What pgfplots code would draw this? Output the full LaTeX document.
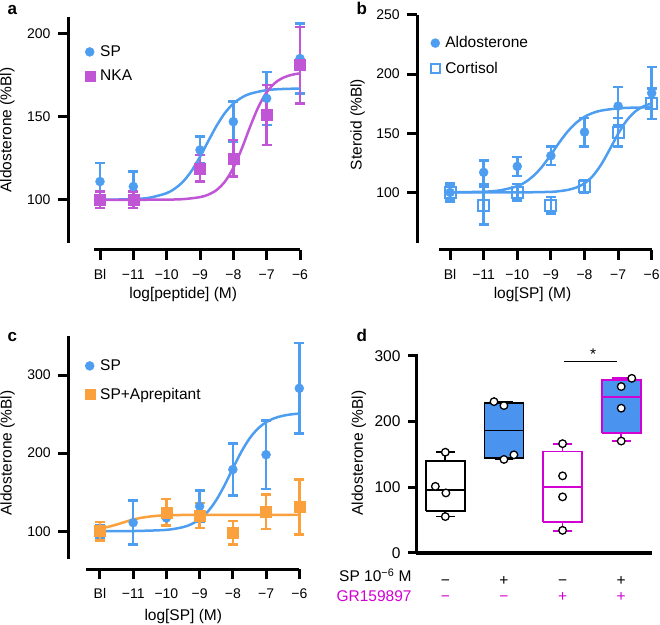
\documentclass[border=0pt]{standalone}
\usepackage{fontspec}
\setmainfont{Liberation Sans}
\usepackage{pgfplots}
\usepackage{pgfplotstable}
\pgfplotsset{compat=1.18}

\definecolor{spblue}{RGB}{77,157,240}
\definecolor{nka}{RGB}{192,86,214}
\definecolor{apr}{RGB}{250,160,60}
\definecolor{boxblue}{RGB}{74,148,240}
\definecolor{gr}{RGB}{210,0,210}

% panel a
\pgfplotstableread{
x y e
-12 111 11
-11 108 9
-9 130 8
-8 147 12
-7 161 16
-6 185 21
}\aSP
\pgfplotstableread{
x y e
-12 100 5
-11 100 5
-9 119 8
-8 125 11
-7 151 18
-6 181 23
}\aNKA
% panel b
\pgfplotstableread{
x y e
-12 100 8
-11 117 10
-10 122 8
-9 131 8
-8 151 12
-7 173 16
-6 184 22
}\bAld
\pgfplotstableread{
x y e
-12 100 6
-11 89 16
-10 100 7
-9 89 7
-8 105 5
-7 151 12
-6 175 13
}\bCort
% panel c
\pgfplotstableread{
x y e
-12 100 8
-11 111 28
-10 117 10
-9 132 20
-8 179 33
-7 198 44
-6 283 58
}\cSP
\pgfplotstableread{
x y e
-12 100 12
-10 124 17
-9 120 16
-8 98 15
-7 125 22
-6 131 35
}\cApr

\pgfplotsset{
  prism/.style={
    scale only axis, clip=false,
    axis x line*=bottom, axis y line*=left,
    axis line style={line width=3pt, black},
    tick align=outside, major tick length=10pt,
    tick style={line width=3pt, black},
    tick label style={font=\fontsize{14}{16}\selectfont},
    yticklabel style={xshift=-4pt},
    /pgf/number format/assume math mode=true,
    every axis y label/.style={rotate=90, anchor=center},
    every axis x label/.style={anchor=center},
    label style={font=\fontsize{15.5}{18}\selectfont},
    legend cell align=left,
    legend style={draw=none, fill=none, inner sep=0pt,
      nodes={inner sep=1pt}, font=\fontsize{15.5}{18}\selectfont,
      /tikz/every odd column/.append style={column sep=4.5pt}},
  },
  dose/.style={xtick={-12,-11,...,-6},
    xticklabels={Bl,−11,−10,−9,−8,−7,−6}, xmax=-6,
    xticklabel style={yshift=-6pt}},
  errs/.style={error bars/.cd, y dir=both, y explicit,
    error bar style={line width=2.5pt, #1},
    error mark options={rotate=90, mark size=5pt, line width=2.5pt, #1},
    /pgfplots/.cd},
  fit/.style={#1, line width=2.5pt, smooth, no marks},
}

\begin{document}
\begin{tikzpicture}
\useasboundingbox (0,0) rectangle (660pt,624pt);

\node[anchor=base west, font=\bfseries\fontsize{17}{17}\selectfont] at (4pt,609pt) {a};
\node[anchor=base west, font=\bfseries\fontsize{17}{17}\selectfont] at (353pt,609pt) {b};
\node[anchor=base west, font=\bfseries\fontsize{17}{17}\selectfont] at (4pt,282pt) {c};
\node[anchor=base west, font=\bfseries\fontsize{17}{17}\selectfont] at (353pt,282pt) {d};

% ---------- a ----------
\begin{axis}[prism, dose, at={(94pt,381pt)}, anchor=south west,
  width=206pt, height=226pt, xmin=-12.18, ymin=74, ymax=210,
  ytick={100,150,200}, axis x line shift=7pt, axis y line shift=26pt,
  xlabel={log[peptide] (M)}, ylabel={Aldosterone (\%Bl)},
  xlabel style={at={(axis description cs:0.433,-0.226)}},
  ylabel style={at={(axis description cs:-0.42,0.5)}},
  legend style={at={(axis description cs:-0.046,0.878)}, anchor=north west, row sep=10pt}]
\addlegendimage{only marks, mark=*, mark size=4.5pt, spblue}
\addlegendentry{SP}
\addlegendimage{only marks, mark=square*, mark size=5pt, nka}
\addlegendentry{NKA}
\addplot[only marks, mark=*, mark size=4.5pt, spblue, forget plot, errs=spblue]
  table[x=x, y=y, y error=e] {\aSP};
\addplot[only marks, mark=square*, mark size=5.5pt, nka, forget plot, errs=nka]
  table[x=x, y=y, y error=e] {\aNKA};
\addplot[fit=spblue, forget plot] coordinates {
 (-12,100.0) (-11,100.4) (-10.5,101.3) (-10,104.0) (-9.75,106.8) (-9.5,111.1)
 (-9.25,117.5) (-9,125.9) (-8.75,135.4) (-8.5,144.6) (-8.25,152.3) (-8,157.9)
 (-7.75,161.5) (-7.5,163.8) (-7,166.0) (-6.5,166.7) (-6,166.9)};
\addplot[fit=nka, forget plot] coordinates {
 (-12,100.0) (-11,100.0) (-10,100.1) (-9.5,100.4) (-9,101.6) (-8.75,103.1)
 (-8.5,105.9) (-8.25,111.0) (-8,119.2) (-7.75,130.6) (-7.5,143.8) (-7.25,155.8)
 (-7,164.7) (-6.75,170.3) (-6.5,173.5) (-6.25,175.2) (-6,176.1)};
\end{axis}

% ---------- b ----------
\begin{axis}[prism, dose, at={(439.3pt,380.7pt)}, anchor=south west,
  width=212.4pt, height=228.3pt, xmin=-12.32, ymin=57, ymax=250,
  ytick={100,150,200,250}, axis x line shift=6.7pt, axis y line shift=22pt,
  xlabel={log[SP] (M)}, ylabel={Steroid (\%Bl)},
  xlabel style={at={(axis description cs:0.439,-0.226)}},
  ylabel style={at={(axis description cs:-0.385,0.52)}},
  legend style={at={(axis description cs:-0.041,0.91)}, anchor=north west, row sep=10.7pt}]
\addlegendimage{only marks, mark=*, mark size=4.5pt, spblue}
\addlegendentry{Aldosterone}
\addlegendimage{only marks, mark=square, mark size=4.5pt, line width=2pt, spblue, mark options={fill=white}}
\addlegendentry{Cortisol}
\addplot[only marks, mark=square, mark size=5.5pt, spblue,
  mark options={fill=white, line width=2pt}, forget plot, errs=spblue]
  table[x=x, y=y, y error=e] {\bCort};
\addplot[only marks, mark=*, mark size=4.5pt, spblue, forget plot, errs=spblue]
  table[x=x, y=y, y error=e] {\bAld};
\addplot[fit=spblue, forget plot] coordinates {
 (-12,100.1) (-11,100.6) (-10.5,101.8) (-10,105.3) (-9.75,108.9) (-9.5,114.5)
 (-9.25,122.2) (-9,131.9) (-8.75,142.2) (-8.5,151.5) (-8.25,158.8) (-8,163.9)
 (-7.75,167.2) (-7.5,169.2) (-7,171.1) (-6.5,171.7) (-6,171.9)};
\addplot[fit=spblue, forget plot] coordinates {
 (-12,100.0) (-10,100.0) (-9,100.5) (-8.75,101.1) (-8.5,102.1) (-8.25,104.1)
 (-8,107.7) (-7.75,114.0) (-7.5,123.7) (-7.25,136.3) (-7,149.5) (-6.75,160.6)
 (-6.5,168.2) (-6.25,172.7) (-6,175.3)};
\end{axis}

% ---------- c ----------
\begin{axis}[prism, dose, at={(86pt,64.7pt)}, anchor=south west,
  width=213.3pt, height=223.3pt, xmin=-12.42, ymin=64, ymax=350,
  ytick={100,200,300}, axis x line shift=10pt, axis y line shift=17.7pt,
  xlabel={log[SP] (M)}, ylabel={Aldosterone (\%Bl)},
  xlabel style={at={(axis description cs:0.456,-0.258)}},
  ylabel style={at={(axis description cs:-0.368,0.476)}},
  legend style={at={(axis description cs:-0.007,0.899)}, anchor=north west, row sep=14pt}]
\addlegendimage{only marks, mark=*, mark size=4.5pt, spblue}
\addlegendentry{SP}
\addlegendimage{only marks, mark=square*, mark size=5pt, apr}
\addlegendentry{SP+Aprepitant}
\addplot[only marks, mark=*, mark size=4.5pt, spblue, forget plot, errs=spblue]
  table[x=x, y=y, y error=e] {\cSP};
\addplot[fit=spblue, forget plot] coordinates {
 (-12,100.0) (-11,100.2) (-10,101.7) (-9.5,105.2) (-9.25,109.0) (-9,115.3)
 (-8.75,125.3) (-8.5,139.8) (-8.25,158.8) (-8,180.4) (-7.75,201.3) (-7.5,218.6)
 (-7.25,231.2) (-7,239.6) (-6.75,244.7) (-6.5,247.8) (-6.25,249.6) (-6,250.7)};
\addplot[only marks, mark=square*, mark size=5.5pt, apr, forget plot, errs=apr]
  table[x=x, y=y, y error=e] {\cApr};
\addplot[fit=apr, forget plot] coordinates {
 (-12,103.4) (-11.75,105.6) (-11.5,108.5) (-11.25,111.8) (-11,114.9) (-10.75,117.2)
 (-10.5,118.8) (-10.25,119.8) (-10,120.3) (-9.5,120.8) (-9,120.9) (-8,121.0)
 (-7,121.0) (-6,121.0)};
\end{axis}

% ---------- d ----------
\begin{axis}[prism, at={(416pt,71.3pt)}, anchor=south west,
  width=235.7pt, height=199pt, xmin=0.5, xmax=4.52, ymin=0, ymax=303,
  ytick={0,100,200,300}, major tick length=8pt,
  axis x line shift=0.5pt,
  tick label style={font=\fontsize{15.5}{18}\selectfont},
  xtick={1,2,3,4}, xticklabels={−,+,−,+}, xtick style={draw=none},
  xticklabel style={anchor=base, yshift=-24pt},
  unbounded coords=jump,
  ylabel={Aldosterone (\%Bl)},
  ylabel style={at={(axis description cs:-0.242,0.5)}}]
% boxes: lower quartile to upper quartile
\addplot[draw=black, fill=white, line width=1.8pt] coordinates {
 (0.6675,64) (1.3325,64) (1.3325,140) (0.6675,140) (0.6675,64)};
\addplot[draw=black, fill=boxblue, line width=1.8pt] coordinates {
 (1.6675,143.7) (2.3325,143.7) (2.3325,228) (1.6675,228) (1.6675,143.7)};
\addplot[draw=gr, fill=white, line width=1.8pt] coordinates {
 (2.6675,46.5) (3.3325,46.5) (3.3325,154) (2.6675,154) (2.6675,46.5)};
\addplot[draw=gr, fill=boxblue, line width=1.8pt] coordinates {
 (3.6675,182) (4.3325,182) (4.3325,263) (3.6675,263) (3.6675,182)};
% medians and whiskers
\addplot[black, line width=1.8pt] coordinates {
 (0.6675,96) (1.3325,96) (nan,nan)
 (1,140) (1,153) (nan,nan) (0.84,153) (1.16,153) (nan,nan)
 (1,64) (1,55) (nan,nan) (0.84,55) (1.16,55) (nan,nan)
 (1.6675,186) (2.3325,186) (nan,nan)
 (2,228) (2,230) (nan,nan) (1.84,230) (2.16,230) (nan,nan)
 (1.84,142) (2.16,142)};
\addplot[gr, line width=1.8pt] coordinates {
 (2.6675,100.5) (3.3325,100.5) (nan,nan)
 (3,154) (3,166) (nan,nan) (2.84,166) (3.16,166) (nan,nan)
 (3,46.5) (3,33.5) (nan,nan) (2.84,33.5) (3.16,33.5) (nan,nan)
 (3.6675,236.5) (4.3325,236.5) (nan,nan)
 (4,263) (4,265.5) (nan,nan) (3.84,265.5) (4.16,265.5) (nan,nan)
 (4,182) (4,170) (nan,nan) (3.84,170) (4.16,170)};
% individual values
\addplot[only marks, mark=*, mark size=3.8pt,
  mark options={fill=white, draw=black, line width=1.3pt}] coordinates {
 (1.0,153) (0.83,101) (1.01,91) (1.0,55)
 (1.83,230) (2.0,224) (2.0,142) (2.17,149)
 (3.0,166) (3.0,117) (3.0,85) (3.0,34)
 (4.0,170) (4.0,220) (4.0,253) (4.18,265.5)};
\addplot[black, line width=1.3pt] coordinates {(3.03,291) (3.93,291)};
% x axis line
\addplot[draw=black, line width=3pt, forget plot] coordinates {(0.5,0) (2.5,0) (4.52,0)};
\node[anchor=base, font=\fontsize{15.5}{18}\selectfont] at (axis cs:3.52,294.6) {*};
\node[anchor=base east, font=\fontsize{15.5}{18}\selectfont] at (axis description cs:-0.004,-0.146) {SP 10\textsuperscript{−6} M};
\node[anchor=base east, font=\fontsize{15.5}{18}\selectfont, text=gr] at (axis description cs:-0.004,-0.246) {GR159897};
\node[anchor=base, text=gr, font=\fontsize{15.5}{18}\selectfont] at (axis cs:1,-74.6) {−};
\node[anchor=base, text=gr, font=\fontsize{15.5}{18}\selectfont] at (axis cs:2,-74.6) {−};
\node[anchor=base, text=gr, font=\fontsize{15.5}{18}\selectfont] at (axis cs:3,-74.6) {+};
\node[anchor=base, text=gr, font=\fontsize{15.5}{18}\selectfont] at (axis cs:4,-74.6) {+};
\end{axis}
\end{tikzpicture}
\end{document}
